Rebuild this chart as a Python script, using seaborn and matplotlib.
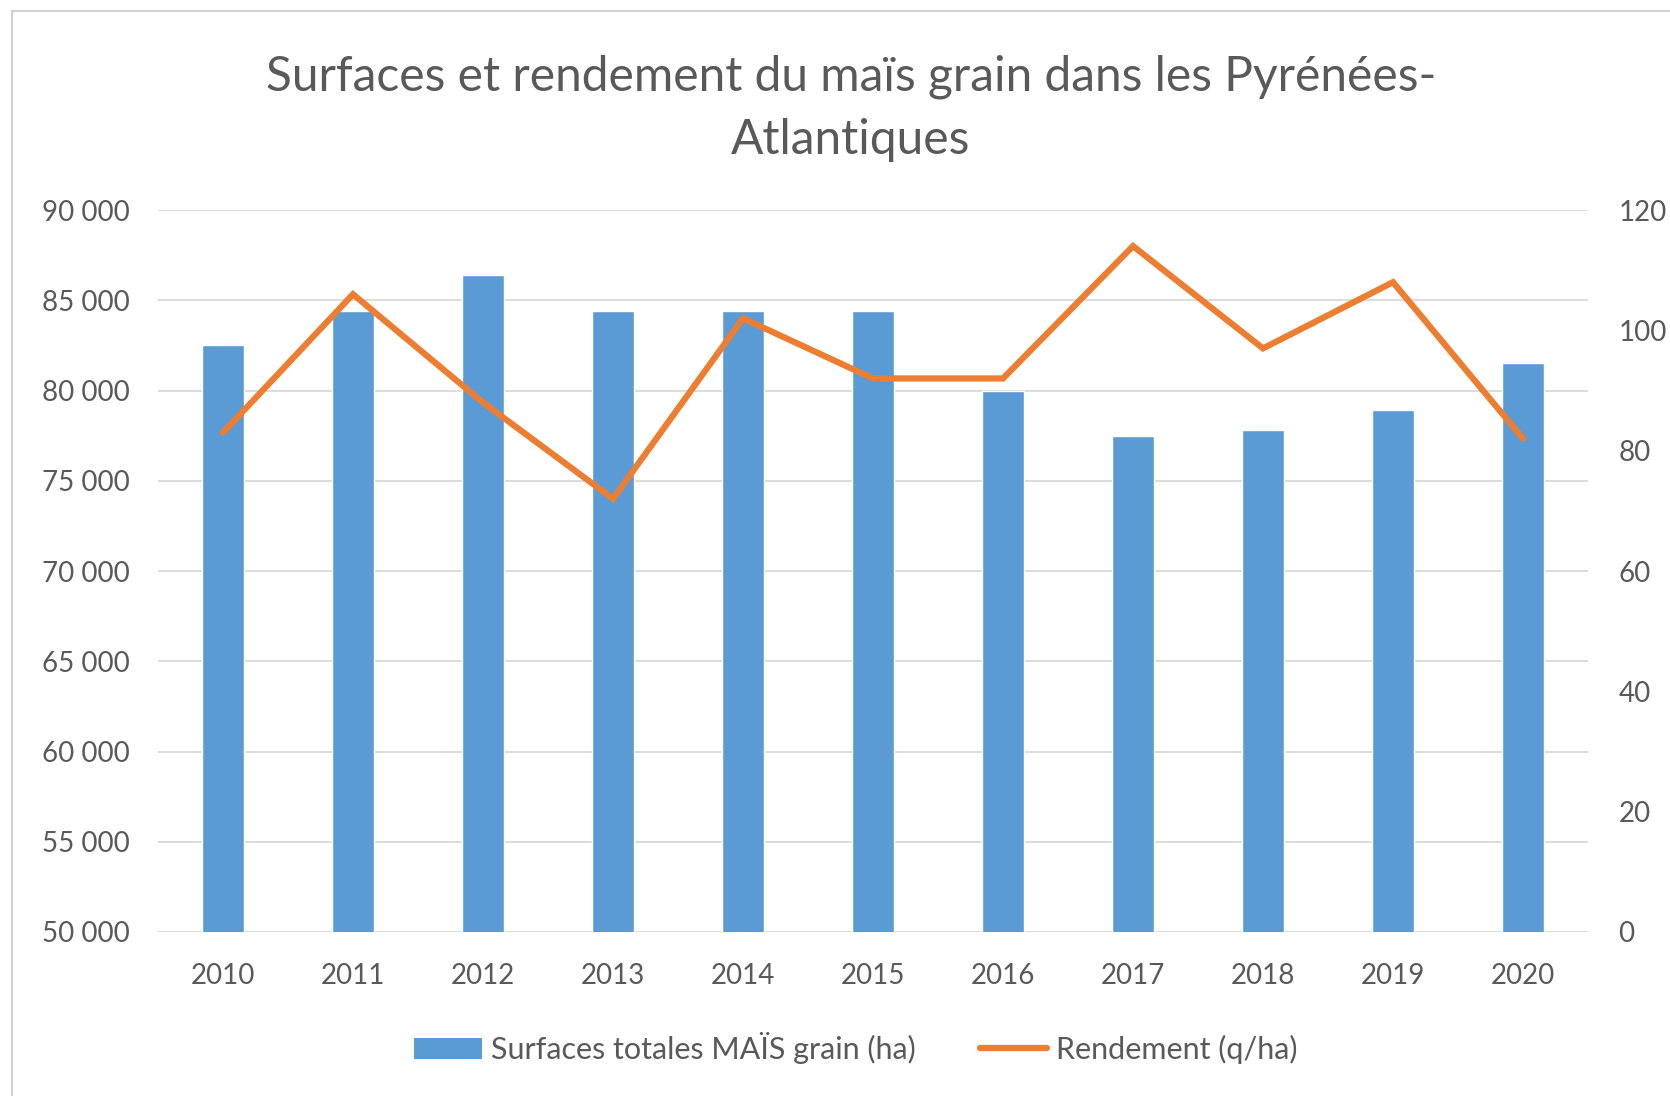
import numpy as np
import pandas as pd
import matplotlib
matplotlib.use("Agg")
import matplotlib.pyplot as plt
from matplotlib.patches import Rectangle
from matplotlib.lines import Line2D
from matplotlib.patches import Patch
from matplotlib.ticker import FuncFormatter, MultipleLocator
import seaborn as sns

# data
years = ["2010", "2011", "2012", "2013", "2014", "2015", "2016", "2017", "2018", "2019", "2020"]
surfaces = [82500, 84400, 86400, 84400, 84400, 84400, 80000, 77500, 77800, 78900, 81500]
rendement = [83, 106, 88, 72, 102, 92, 92, 114, 97, 108, 82]

title = "Surfaces et rendement du maïs grain dans les Pyrénées-\nAtlantiques"
bar_label = "Surfaces totales MAÏS grain (ha)"
line_label = "Rendement (q/ha)"

BLUE = "#5B9BD5"
ORANGE = "#ED7D31"
TEXT = "#595959"
GRID = "#D9D9D9"

sns.set_theme(style="white")
plt.rcParams["font.family"] = ["Lato", "DejaVu Sans"]

df = pd.DataFrame({"year": years, "surface": surfaces, "rendement": rendement})
df["pos"] = np.arange(len(df))

fig = plt.figure(figsize=(16.7, 10.96), dpi=100)
ax = fig.add_axes([158 / 1670, 1 - 932 / 1096, (1588 - 158) / 1670, (932 - 210) / 1096])

# chart frame
fig.patches.append(Rectangle((12 / 1670, -0.05), 1.2, 1 - 11 / 1096 + 0.05,
                             transform=fig.transFigure, fill=False,
                             edgecolor="#D0D0D0", lw=1.5))

sns.barplot(data=df, x="year", y="surface", color=BLUE, saturation=1,
            width=0.32, ax=ax, zorder=2)
ax.set_ylim(50000, 90000)
ax.set_xlim(-0.5, len(years) - 0.5)
ax.yaxis.set_major_locator(MultipleLocator(5000))
ax.yaxis.set_major_formatter(FuncFormatter(lambda v, p: f"{int(v):,}".replace(",", " ")))
ax.grid(axis="y", color=GRID, lw=1.3, zorder=0)
ax.set_axisbelow(True)
ax.set_xlabel("")
ax.set_ylabel("")
for s in ax.spines.values():
    s.set_visible(False)
ax.tick_params(axis="both", length=0, labelsize=20, colors=TEXT)
ax.tick_params(axis="x", pad=22)
ax.tick_params(axis="y", pad=20)

ax2 = ax.twinx()
sns.lineplot(data=df, x="pos", y="rendement", color=ORANGE, lw=4.5, ax=ax2,
             solid_joinstyle="miter", zorder=3)
ax2.set_ylim(0, 120)
ax2.yaxis.set_major_locator(MultipleLocator(20))
ax2.set_ylabel("")
ax2.set_xlabel("")
for s in ax2.spines.values():
    s.set_visible(False)
ax2.tick_params(axis="y", length=0, labelsize=20, colors=TEXT, pad=22)
ax2.grid(False)

fig.text(851 / 1670, 1 - 108 / 1096, title, ha="center", va="center",
         fontsize=34.5, color=TEXT, linespacing=1.53)

handles = [Patch(facecolor=BLUE, edgecolor="none"),
           Line2D([0], [0], color=ORANGE, lw=4.5)]
fig.legend(handles, [bar_label, line_label], loc="center",
           bbox_to_anchor=(856 / 1670, 1 - 1048 / 1096), ncol=2, frameon=False,
           fontsize=22, labelcolor=TEXT, handlelength=2.2, handletextpad=0.3,
           columnspacing=2.1)

fig.savefig("out.png", dpi=100, facecolor="white")
